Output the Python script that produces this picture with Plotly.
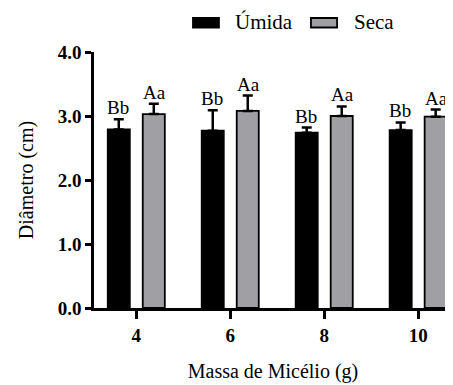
import plotly.graph_objects as go

categorias = ["4", "6", "8", "10"]
umida = [2.79, 2.77, 2.74, 2.78]
umida_err = [0.16, 0.32, 0.08, 0.12]
seca = [3.03, 3.08, 3.00, 2.99]
seca_err = [0.16, 0.24, 0.15, 0.11]
letras_umida = ["Bb", "Bb", "Bb", "Bb"]
letras_seca = ["Aa", "Aa", "Aa", "Aa"]
y_ticks = [0, 1, 2, 3, 4]
series = ["Úmida", "Seca"]
cores = ["black", "#a0a0a4"]

FONT = "Liberation Serif, Times New Roman, serif"

fig = go.Figure()
fig.add_trace(go.Bar(
    name=series[0], x=categorias, y=umida,
    marker=dict(color=cores[0], line=dict(color="black", width=1.8)),
    error_y=dict(type="data", array=umida_err, arrayminus=[0]*4, symmetric=False,
                 color="black", thickness=2.5, width=5),
))
fig.add_trace(go.Bar(
    name=series[1], x=categorias, y=seca,
    marker=dict(color=cores[1], line=dict(color="black", width=1.8)),
    error_y=dict(type="data", array=seca_err, arrayminus=[0]*4, symmetric=False,
                 color="black", thickness=2.5, width=5),
))

for i, c in enumerate(categorias):
    fig.add_annotation(x=i, y=umida[i] + umida_err[i], text=letras_umida[i],
                       xref="x", yref="y",
                       xshift=-18, yshift=-1, yanchor="bottom", showarrow=False,
                       font=dict(family=FONT, size=19, color="black"))
    fig.add_annotation(x=i, y=seca[i] + seca_err[i], text=letras_seca[i],
                       xref="x", yref="y",
                       xshift=18, yshift=-1, yanchor="bottom", showarrow=False,
                       font=dict(family=FONT, size=19, color="black"))

# manual legend (wide rectangles, as in the reference)
leg_boxes = [(0.2765, 0.349), (0.606, 0.679)]
leg_text_x = [0.388, 0.721]
for (x0, x1), tx, nome, cor in zip(leg_boxes, leg_text_x, series, cores):
    fig.add_shape(type="rect", xref="paper", yref="paper", x0=x0, x1=x1,
                  y0=1.0957, y1=1.1328, fillcolor=cor,
                  line=dict(color="black", width=1.8))
    fig.add_annotation(xref="paper", yref="paper", x=tx, y=1.117, text=nome,
                       xanchor="left", yanchor="middle", showarrow=False,
                       font=dict(family=FONT, size=21, color="black"))

# page body has an 8px default margin, so the figure is sized/offset to compensate
fig.update_layout(
    width=445, height=377,
    margin=dict(l=86, r=1, t=44, b=77, autoexpand=False),
    paper_bgcolor="white", plot_bgcolor="white",
    barmode="group", bargap=0.255, bargroupgap=0.37,
    font=dict(family=FONT, color="black"),
    showlegend=False,
    xaxis=dict(
        type="category", range=[-0.45, 3.36],
        showline=True, linecolor="black", linewidth=2.5,
        ticks="outside", ticklen=8, tickwidth=2.5, tickcolor="black",
        tickfont=dict(family=FONT, size=19, color="black", weight="bold"),
        title=dict(text="Massa de Micélio (g)", font=dict(family=FONT, size=20, color="black"),
                   standoff=20),
        showgrid=False, zeroline=False,
    ),
    yaxis=dict(
        range=[0, 4], tickvals=y_ticks, tickformat=".1f",
        showline=True, linecolor="black", linewidth=2.5,
        ticks="outside", ticklen=6, tickwidth=2.5, tickcolor="black",
        tickfont=dict(family=FONT, size=19, color="black", weight="bold"),
        title=dict(text="Diâmetro (cm)", font=dict(family=FONT, size=20, color="black"),
                   standoff=19),
        showgrid=False, zeroline=False,
    ),
)

fig.write_html("out.html")
